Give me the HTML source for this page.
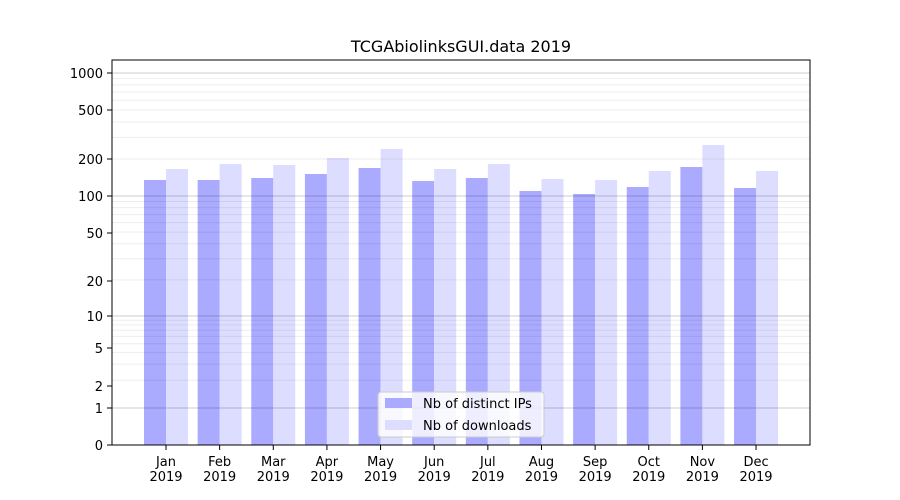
<!DOCTYPE html>
<html><head><style>body{margin:0;background:#fff}svg{display:block;font-family:"DejaVu Sans","Liberation Sans",sans-serif}</style></head><body>
<svg width="900" height="500" xmlns="http://www.w3.org/2000/svg">
<rect width="900" height="500" fill="#fff"/>
<text x="461" y="52" font-size="16" text-anchor="middle">TCGAbiolinksGUI.data 2019</text>
<g id="bars"></g>
<g id="grid"></g>
<rect x="112" y="60" width="698" height="385" fill="none" stroke="#000" stroke-width="1"/>
<g font-size="13" text-anchor="end">
<text x="103" y="78">1000</text><text x="103" y="115">500</text><text x="103" y="164">200</text>
<text x="103" y="201">100</text><text x="103" y="238">50</text><text x="103" y="286">20</text>
<text x="103" y="321">10</text><text x="103" y="353">5</text><text x="103" y="391">2</text>
<text x="103" y="413">1</text><text x="103" y="450">0</text>
</g>
<g stroke="#000"><line x1="107" x2="112" y1="73" y2="73"/><line x1="107" x2="112" y1="110" y2="110"/><line x1="107" x2="112" y1="159" y2="159"/><line x1="107" x2="112" y1="196" y2="196"/><line x1="107" x2="112" y1="233" y2="233"/><line x1="107" x2="112" y1="281" y2="281"/><line x1="107" x2="112" y1="316" y2="316"/><line x1="107" x2="112" y1="348" y2="348"/><line x1="107" x2="112" y1="386" y2="386"/><line x1="107" x2="112" y1="408" y2="408"/><line x1="107" x2="112" y1="445" y2="445"/></g>
<g id="xl" font-size="13" text-anchor="middle"></g>
<rect x="378" y="392" width="166" height="45" rx="3" fill="#fff" fill-opacity="0.8" stroke="#ccc"/>
<rect x="385" y="398" width="27" height="10" fill="#aaaaff"/>
<rect x="385" y="420" width="27" height="10" fill="#ddddff"/>
<text x="423" y="408" font-size="13">Nb of distinct IPs</text>
<text x="423" y="430" font-size="13">Nb of downloads</text>
<script>
var ns="http://www.w3.org/2000/svg";
function el(p,t,a){var e=document.createElementNS(ns,t);for(var k in a)e.setAttribute(k,a[k]);document.getElementById(p).appendChild(e);return e;}
var d=[180,180,178,174,168,181,178,191,194,187,167,188];
var l=[169,164,165,158,149,169,164,179,180,171,145,171];
var m=["Jan","Feb","Mar","Apr","May","Jun","Jul","Aug","Sep","Oct","Nov","Dec"];
for(var i=0;i<12;i++){var c=166+i*53.64;
el("bars","rect",{x:c-22,y:d[i],width:22,height:445-d[i],fill:"#aaaaff"});
el("bars","rect",{x:c,y:l[i],width:22,height:445-l[i],fill:"#ddddff"});
el("bars","line",{x1:c,x2:c,y1:445,y2:450,stroke:"#000"});
var t=el("xl","text",{x:c,y:466});t.textContent=m[i];
t=el("xl","text",{x:c,y:481});t.textContent="2019";}
var dec=[[408,316],[316,196],[196,73],[73,-50]];
for(var k=0;k<4;k++){for(var j=2;j<10;j++){var y=dec[k][0]-(dec[k][0]-dec[k][1])*Math.log10(j);if(y>60)el("grid","line",{x1:112,x2:810,y1:y,y2:y,stroke:"#000","stroke-opacity":0.07});}}
[73,196,316,408].forEach(function(y){el("grid","line",{x1:112,x2:810,y1:y,y2:y,stroke:"#000","stroke-opacity":0.2});});
</script>
</svg>
</body></html>
